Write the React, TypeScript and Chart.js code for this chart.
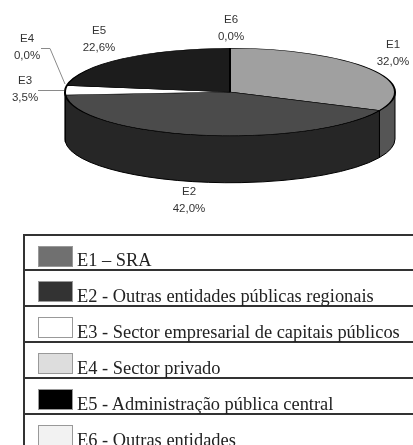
import React, { useEffect, useRef } from "react";
import { Chart, registerables } from "chart.js";

Chart.register(...registerables);

const categories = ["E1", "E2", "E3", "E4", "E5", "E6"];
const values = [32.0, 42.0, 3.5, 0.0, 22.6, 0.0];
const topColors = ["#a0a0a0", "#4b4b4b", "#ffffff", "#dddddd", "#1c1c1c", "#f2f2f2"];
const wallColors = ["#555555", "#262626", "#888888", "#888888", "#101010", "#888888"];
const legendNames = [
  "E1 – SRA",
  "E2 - Outras entidades públicas regionais",
  "E3 - Sector empresarial de capitais públicos",
  "E4 - Sector privado",
  "E5 - Administração pública central",
  "E6 - Outras entidades",
];
const legendColors = ["#707070", "#333333", "#ffffff", "#dddddd", "#000000", "#f2f2f2"];

const W = 413;
const H = 445;
const CX = 230;
const CY = 92;
const RX = 166;
const RY = 44;
const DEPTH = 47;
const labelAnchors = [
  [393, 45],
  [189, 192],
  [25, 81],
  [27, 39],
  [99, 31],
  [231, 20],
];

const pie3d = {
  id: "pie3d",
  beforeDatasetsDraw(chart: any) {
    const { ctx } = chart;
    const arcs = chart.getDatasetMeta(0).data;
    const k = RY / RX;
    // side wall, drawn from each arc's own angles
    arcs.forEach((arc: any, i: number) => {
      if (values[i] <= 0) return;
      const { startAngle, endAngle, outerRadius } = arc.getProps(["startAngle", "endAngle", "outerRadius"], true);
      const a0 = Math.max(startAngle, 0);
      const a1 = Math.min(endAngle, Math.PI);
      if (a1 <= a0) return;
      ctx.save();
      ctx.beginPath();
      ctx.ellipse(CX, CY, outerRadius, outerRadius * k, 0, a0, a1);
      ctx.ellipse(CX, CY + DEPTH, outerRadius, outerRadius * k, 0, a1, a0, true);
      ctx.closePath();
      ctx.fillStyle = wallColors[i];
      ctx.strokeStyle = "#000";
      ctx.lineWidth = 1;
      ctx.fill();
      ctx.stroke();
      ctx.restore();
    });
    ctx.save();
    ctx.translate(CX, CY);
    ctx.scale(1, k);
    ctx.translate(-arcs[0].x, -arcs[0].y);
  },
  afterDatasetsDraw(chart: any) {
    const { ctx } = chart;
    ctx.restore();
    ctx.save();
    // leader lines
    ctx.strokeStyle = "#8a8a8a";
    ctx.lineWidth = 1;
    ctx.beginPath();
    ctx.moveTo(41, 48.5);
    ctx.lineTo(50, 48.5);
    ctx.lineTo(65, 84);
    ctx.moveTo(38, 90.5);
    ctx.lineTo(64, 90.5);
    ctx.stroke();
    // labels
    ctx.fillStyle = "#333333";
    ctx.font = '11.5px "Liberation Sans", Arial, sans-serif';
    ctx.textAlign = "center";
    ctx.textBaseline = "middle";
    categories.forEach((c, i) => {
      const [x, y] = labelAnchors[i];
      ctx.fillText(c, x, y);
      ctx.fillText(values[i].toFixed(1).replace(".", ",") + "%", x, y + 17);
    });
    ctx.restore();
  },
};

export default function App() {
  const ref = useRef<HTMLCanvasElement>(null);
  useEffect(() => {
    const chart = new Chart(ref.current as HTMLCanvasElement, {
      type: "pie",
      data: {
        labels: categories,
        datasets: [
          {
            data: values,
            backgroundColor: topColors,
            borderColor: "#000000",
            borderWidth: (c: any) => (values[c.dataIndex] > 0 ? 2 : 0),
          },
        ],
      },
      options: {
        responsive: false,
        animation: false,
        layout: { padding: { left: CX - RX, right: W - CX - RX, top: 40, bottom: H - 40 - 2 * RX } },
        plugins: { legend: { display: false }, tooltip: { enabled: false } },
      },
      plugins: [pie3d],
    } as any);
    return () => chart.destroy();
  }, []);

  return (
    <div
      style={{
        position: "absolute",
        left: 0,
        top: 0,
        width: W,
        height: H,
        overflow: "hidden",
        background: "#fff",
        filter: "blur(0.45px)",
      }}
    >
      <canvas ref={ref} width={W} height={H} style={{ position: "absolute", left: 0, top: 0, width: W, height: H }} />
      <div
        style={{
          position: "absolute",
          left: 23,
          top: 234,
          width: 400,
          height: 220,
          borderLeft: "2px solid #333",
          borderTop: "2px solid #333",
          boxSizing: "border-box",
        }}
      >
        {legendNames.map((name, i) => (
          <div
            key={name}
            style={{
              position: "relative",
              height: i === 0 ? 35 : 36,
              boxSizing: "border-box",
              borderBottom: i < 5 ? "2px solid #333" : "none",
            }}
          >
            <div
              style={{
                position: "absolute",
                left: 13,
                top: 10,
                width: 35,
                height: 21,
                boxSizing: "border-box",
                background: legendColors[i],
                border: "1px solid #999",
              }}
            />
            <div
              style={{
                position: "absolute",
                left: 52,
                top: i === 0 ? 14 : 15,
                whiteSpace: "nowrap",
                font: '18.4px/20px "Liberation Serif", serif',
                color: "#222",
              }}
            >
              {name}
            </div>
          </div>
        ))}
      </div>
    </div>
  );
}
